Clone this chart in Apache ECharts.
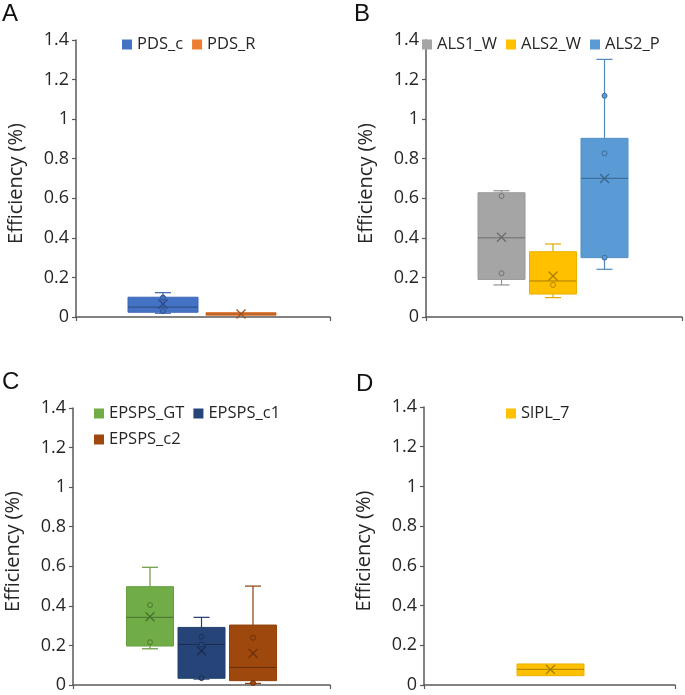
<!DOCTYPE html>
<html>
<head>
<meta charset="utf-8">
<script src="https://cdn.jsdelivr.net/npm/echarts@6/dist/echarts.min.js"></script>
<style>
html, body { margin: 0; padding: 0; background: #ffffff; }
#chart { width: 685px; height: 695px; }
</style>
</head>
<body>
<div id="chart"></div>
<script>
// ---------------- DATA ----------------
// Y axis
const yMin = 0;
const yMax = 1.4;
const yStep = 0.2;
const yAxisTitle = 'Efficiency (%)';
const panelLetters = ['A', 'B', 'C', 'D'];

// Box statistics: [min, Q1, median, Q3, max]
// Panel A
const namesA = ['PDS_c', 'PDS_R'];
const statsA = [
  [0.019, 0.024, 0.05, 0.10, 0.123],
  [0.009, 0.009, 0.015, 0.022, 0.022]
];
const meansA = [0.066, 0.015];
const pointsA = [[0.03, 0.098], []];

// Panel B
const namesB = ['ALS1_W', 'ALS2_W', 'ALS2_P'];
const statsB = [
  [0.162, 0.19, 0.40, 0.628, 0.638],
  [0.098, 0.116, 0.182, 0.33, 0.369],
  [0.241, 0.30, 0.701, 0.903, 1.302]
];
const meansB = [0.403, 0.207, 0.70];
const pointsB = [[0.221, 0.611], [0.162], [0.30, 0.827, 1.118]];

// Panel C
const namesC = ['EPSPS_GT', 'EPSPS_c1', 'EPSPS_c2'];
const statsC = [
  [0.183, 0.197, 0.342, 0.497, 0.595],
  [0.03, 0.034, 0.205, 0.291, 0.342],
  [0.008, 0.022, 0.089, 0.303, 0.50]
];
const meansC = [0.345, 0.173, 0.16];
const pointsC = [[0.216, 0.404], [0.035, 0.205, 0.244], [0.01, 0.239]];

// Panel D
const namesD = ['SlPL_7'];
const statsD = [
  [0.047, 0.047, 0.079, 0.106, 0.106]
];
const meansD = [0.078];
const pointsD = [[]];

// ---------------- STYLE / LAYOUT ----------------
const FONT = '"Open Sans", "Noto Sans", sans-serif';
const TEXT_COLOR = '#262626';
const AXIS_COLOR = '#595959';

const colorsA = ['#4472C4', '#ED7D31'];
const colorsB = ['#A5A5A5', '#FFC000', '#5B9BD5'];
const colorsC = ['#70AD47', '#264478', '#9E480E'];
const colorsD = ['#FFC000'];

function shade(hex, f) {
  const n = parseInt(hex.slice(1), 16);
  const r = Math.round(((n >> 16) & 255) * (1 - f));
  const g = Math.round(((n >> 8) & 255) * (1 - f));
  const b = Math.round((n & 255) * (1 - f));
  return 'rgb(' + r + ',' + g + ',' + b + ')';
}

const panels = [
  { names: namesA, stats: statsA, means: meansA, points: pointsA, colors: colorsA,
    grid: { left: 76, top: 40, width: 254, height: 277 }, boxW: 70, pitch: 78, shift: -1,
    legend: { left: 122, top: 36, width: 260 }, letter: { left: 2, top: 2 } },
  { names: namesB, stats: statsB, means: meansB, points: pointsB, colors: colorsB,
    grid: { left: 426, top: 40, width: 256, height: 277 }, boxW: 47, pitch: 51.5, shift: -1,
    legend: { left: 422, top: 36, width: 262 }, letter: { left: 354, top: 2 } },
  { names: namesC, stats: statsC, means: meansC, points: pointsC, colors: colorsC,
    grid: { left: 73, top: 408, width: 257, height: 277 }, boxW: 47, pitch: 51.5, shift: 0,
    legend: { left: 94, top: 405, width: 205 }, letter: { left: 2, top: 370 } },
  { names: namesD, stats: statsD, means: meansD, points: pointsD, colors: colorsD,
    grid: { left: 424, top: 407, width: 251, height: 278 }, boxW: 67, pitch: 0, shift: 1,
    legend: { left: 506, top: 405, width: 200 }, letter: { left: 356, top: 372 } }
];

function boxRenderer(offset, boxW, color) {
  const edge = shade(color, 0.08);
  const whisk = shade(color, 0.12);
  const dark = shade(color, 0.35);
  const capHalf = 8;
  return function (params, api) {
    const xv = api.value(0);
    const cx = api.coord([xv, 0])[0] + offset;
    const py = (k) => api.coord([xv, api.value(k)])[1];
    const yLo = py(1), yQ1 = py(2), yMed = py(3), yQ3 = py(4), yHi = py(5);
    const children = [];
    if (yLo - yQ1 > 0.5) {
      children.push({ type: 'line', shape: { x1: cx, y1: yQ1, x2: cx, y2: yLo }, style: { stroke: whisk, lineWidth: 1.2 } });
      children.push({ type: 'line', shape: { x1: cx - capHalf, y1: yLo, x2: cx + capHalf, y2: yLo }, style: { stroke: whisk, lineWidth: 1.2 } });
    }
    if (yQ3 - yHi > 0.5) {
      children.push({ type: 'line', shape: { x1: cx, y1: yQ3, x2: cx, y2: yHi }, style: { stroke: whisk, lineWidth: 1.2 } });
      children.push({ type: 'line', shape: { x1: cx - capHalf, y1: yHi, x2: cx + capHalf, y2: yHi }, style: { stroke: whisk, lineWidth: 1.2 } });
    }
    children.push({ type: 'rect', shape: { x: cx - boxW / 2, y: yQ3, width: boxW, height: Math.max(yQ1 - yQ3, 1) },
      style: { fill: color, stroke: edge, lineWidth: 1 } });
    children.push({ type: 'line', shape: { x1: cx - boxW / 2, y1: yMed, x2: cx + boxW / 2, y2: yMed },
      style: { stroke: dark, lineWidth: 1 } });
    return { type: 'group', children: children };
  };
}

function pointRenderer(offset, color) {
  const dark = shade(color, 0.3);
  return function (params, api) {
    const p = api.coord([api.value(0), api.value(1)]);
    return { type: 'circle', shape: { cx: p[0] + offset, cy: p[1], r: 2.5 },
      style: { fill: color, stroke: dark, lineWidth: 1 } };
  };
}

function meanRenderer(offset, color) {
  const dark = shade(color, 0.35);
  const h = 4.5;
  return function (params, api) {
    const p = api.coord([api.value(0), api.value(1)]);
    const x = p[0] + offset, y = p[1];
    return { type: 'group', children: [
      { type: 'line', shape: { x1: x - h, y1: y - h, x2: x + h, y2: y + h }, style: { stroke: dark, lineWidth: 1.3 } },
      { type: 'line', shape: { x1: x - h, y1: y + h, x2: x + h, y2: y - h }, style: { stroke: dark, lineWidth: 1.3 } }
    ] };
  };
}

const option = {
  animation: false,
  backgroundColor: '#ffffff',
  grid: [], xAxis: [], yAxis: [], series: [], legend: [], graphic: []
};

panels.forEach((pn, i) => {
  option.grid.push(Object.assign({ containLabel: false }, pn.grid));
  option.xAxis.push({
    type: 'category', gridIndex: i, data: [''], boundaryGap: true,
    axisLine: { show: true, lineStyle: { color: AXIS_COLOR, width: 1.5 } },
    axisTick: { show: true, length: 4, lineStyle: { color: AXIS_COLOR, width: 1.2 } },
    axisLabel: { show: false }, splitLine: { show: false }
  });
  option.yAxis.push({
    type: 'value', gridIndex: i, min: yMin, max: yMax, interval: yStep,
    name: yAxisTitle, nameLocation: 'middle', nameGap: 50,
    nameTextStyle: { fontSize: 20, fontFamily: FONT, color: TEXT_COLOR, padding: [0, 10, 0, 0] },
    axisLine: { show: true, lineStyle: { color: AXIS_COLOR, width: 1.5 } },
    axisTick: { show: true, length: 4, lineStyle: { color: AXIS_COLOR, width: 1.2 } },
    axisLabel: { fontSize: 18, fontFamily: FONT, color: TEXT_COLOR, margin: 7 },
    splitLine: { show: false }
  });
  const n = pn.names.length;
  pn.names.forEach((name, j) => {
    const offset = (j - (n - 1) / 2) * pn.pitch + pn.shift;
    const color = pn.colors[j];
    option.series.push({
      type: 'custom', name: name, xAxisIndex: i, yAxisIndex: i,
      itemStyle: { color: color },
      encode: { x: 0, y: [1, 2, 3, 4, 5] },
      data: [[0].concat(pn.stats[j])],
      renderItem: boxRenderer(offset, pn.boxW, color), z: 2
    });
    option.series.push({
      type: 'custom', name: name + ' points', xAxisIndex: i, yAxisIndex: i,
      itemStyle: { color: color },
      encode: { x: 0, y: 1 },
      data: pn.points[j].map(v => [0, v]),
      renderItem: pointRenderer(offset, color), z: 3
    });
    option.series.push({
      type: 'custom', name: name + ' mean', xAxisIndex: i, yAxisIndex: i,
      itemStyle: { color: color },
      encode: { x: 0, y: 1 },
      data: [[0, pn.means[j]]],
      renderItem: meanRenderer(offset, color), z: 4
    });
  });
  option.legend.push({
    data: pn.names.slice(), left: pn.legend.left, top: pn.legend.top, width: pn.legend.width,
    orient: 'horizontal', icon: 'rect', itemWidth: 10, itemHeight: 10, itemGap: 9, padding: 0,
    selectedMode: false,
    textStyle: { fontSize: 16.5, fontFamily: FONT, color: TEXT_COLOR }
  });
  option.graphic.push({
    type: 'text', left: pn.letter.left, top: pn.letter.top,
    style: { text: panelLetters[i], fontSize: 24, fontFamily: '"Liberation Sans", Arial, sans-serif', fill: '#111111' }
  });
});

const chart = echarts.init(document.getElementById('chart'), null, { renderer: 'canvas' });
chart.setOption(option);
</script>
</body>
</html>
